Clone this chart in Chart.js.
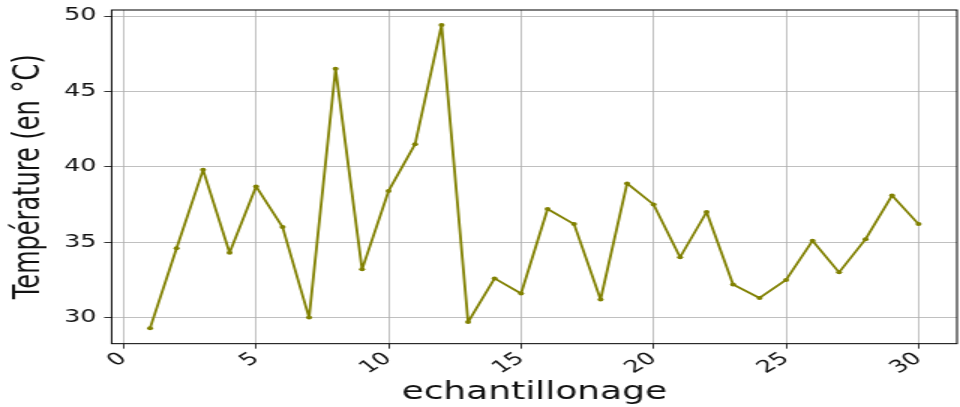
<!DOCTYPE html>
<html>
<head>
<meta charset="utf-8">
<script src="https://cdn.jsdelivr.net/npm/chart.js@4.4.0/dist/chart.umd.min.js"></script>
<style>
  html, body { margin: 0; padding: 0; background: #fff; overflow: hidden; }
  /* the reference is a horizontally stretched figure, so draw at 640 and stretch */
  #wrap { width: 640px; height: 407px; transform: scaleX(1.5); transform-origin: 0 0; }
</style>
</head>
<body>
<div id="wrap"><canvas id="chart"></canvas></div>
<script>
const samples = [];
for (let i = 1; i <= 30; i++) samples.push(i);

const temperatures = [
  29.3, 34.6, 39.8, 34.3, 38.7, 36.0, 30.0, 46.5, 33.2, 38.4,
  41.5, 49.4, 29.7, 32.6, 31.6, 37.2, 36.2, 31.2, 38.9, 37.5,
  34.0, 37.0, 32.2, 31.3, 32.5, 35.1, 33.0, 35.2, 38.1, 36.2
];

const xTicks = [0, 5, 10, 15, 20, 25, 30];
const yTicks = [30, 35, 40, 45, 50];

const points = samples.map((s, i) => ({ x: s, y: temperatures[i] }));

// black frame round the plot area, like matplotlib's spines
const frame = {
  id: "frame",
  afterDraw(chart) {
    const a = chart.chartArea;
    const ctx = chart.ctx;
    ctx.save();
    ctx.strokeStyle = "#000";
    ctx.lineWidth = 1;
    ctx.strokeRect(a.left, a.top, a.right - a.left, a.bottom - a.top);
    ctx.restore();
  }
};

new Chart(document.getElementById("chart"), {
  type: "line",
  plugins: [frame],
  data: {
    datasets: [{
      data: points,
      borderColor: "#808000",
      backgroundColor: "#808000",
      borderWidth: 1.8,
      borderJoinStyle: "round",
      pointRadius: 2,
      pointBorderWidth: 0,
      tension: 0
    }]
  },
  options: {
    responsive: true,
    maintainAspectRatio: false,
    animation: false,
    layout: { autoPadding: false, padding: { top: 10, right: 2, bottom: 0, left: 5 } },
    plugins: { legend: { display: false }, tooltip: { enabled: false } },
    scales: {
      x: {
        type: "linear",
        min: -0.45,
        max: 31.45,
        afterBuildTicks: (axis) => { axis.ticks = xTicks.map(v => ({ value: v })); },
        grid: { color: "#b0b0b0", lineWidth: 0.8, tickColor: "#000", tickLength: 5 },
        border: { display: false },
        ticks: {
          minRotation: 40,
          maxRotation: 40,
          padding: 0,
          color: "#111",
          font: { family: "DejaVu Sans", size: 17 }
        },
        title: {
          display: true,
          text: "echantillonage",
          color: "#111",
          padding: { top: 0, bottom: 0 },
          font: { family: "DejaVu Sans", size: 24 }
        }
      },
      y: {
        min: 28.27,
        max: 50.4,
        afterBuildTicks: (axis) => { axis.ticks = yTicks.map(v => ({ value: v })); },
        afterFit: (axis) => { axis.paddingTop = 0; axis.paddingBottom = 0; },
        grid: { color: "#b0b0b0", lineWidth: 0.8, tickColor: "#000", tickLength: 5 },
        border: { display: false },
        ticks: {
          padding: 5,
          color: "#111",
          font: { family: "DejaVu Sans", size: 17 }
        },
        title: {
          display: true,
          text: "Température (en °C)",
          color: "#111",
          padding: { top: 0, bottom: 4 },
          font: { family: "DejaVu Sans", size: 24 }
        }
      }
    }
  }
});
</script>
</body>
</html>
